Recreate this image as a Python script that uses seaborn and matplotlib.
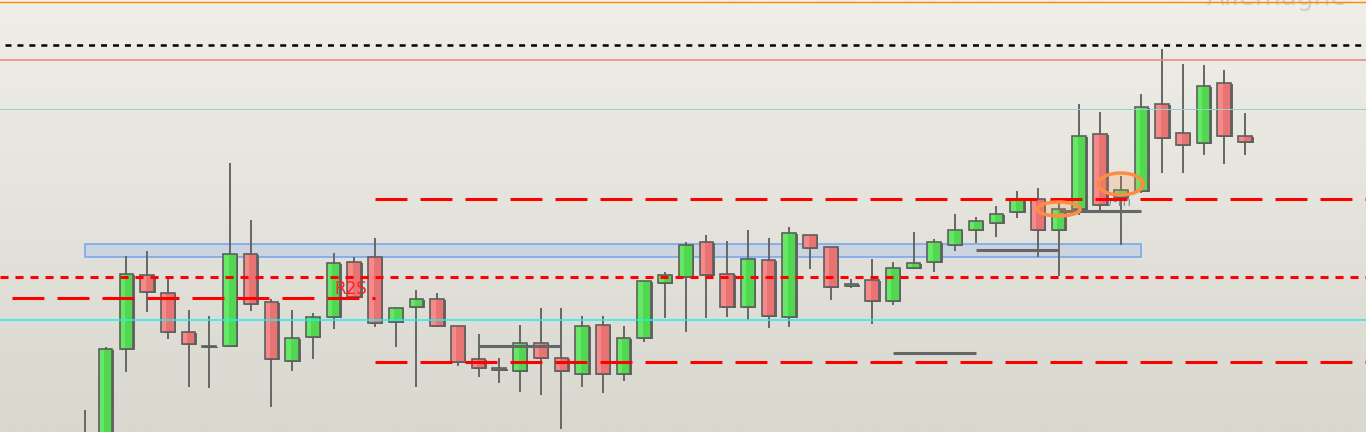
import numpy as np
import matplotlib.pyplot as plt
from matplotlib.colors import LinearSegmentedColormap
from matplotlib.patches import Ellipse, Rectangle
import seaborn as sns

# daily candles (price units)
opens = [30, 60, 151, 225, 207, 168, 154, 154, 246, 198,
         139, 163, 183, 238, 243, 178, 193, 201, 174, 141,
         132, 129, 157, 142, 126, 175, 126, 162, 217, 223,
         258, 226, 193, 240, 183, 265, 253, 214, 220, 199,
         232, 238, 255, 270, 277, 288, 301, 270, 291, 366,
         303, 309, 396, 367, 357, 417, 364]
highs = [90, 153, 244, 249, 222, 190, 184, 337, 280, 201,
         190, 187, 247, 243, 262, 193, 210, 207, 174, 166,
         142, 175, 192, 192, 184, 184, 174, 219, 228, 258,
         265, 259, 270, 262, 273, 265, 253, 221, 241, 238,
         268, 261, 286, 283, 294, 309, 312, 297, 396, 388,
         324, 406, 451, 436, 435, 430, 387]
lows = [20, 50, 128, 188, 161, 113, 112, 154, 189, 93,
        129, 141, 171, 200, 173, 153, 113, 173, 134, 123,
        117, 108, 105, 71, 113, 107, 119, 158, 182, 168,
        182, 183, 180, 172, 173, 231, 200, 212, 176, 195,
        232, 228, 249, 257, 263, 282, 243, 224, 285, 289,
        255, 307, 327, 327, 345, 336, 345]
closes = [55, 151, 226, 208, 168, 156, 153.5, 246, 196, 141,
          162, 183, 237, 203, 177, 192, 201, 174, 138, 132,
          130, 157, 142, 129, 174, 126, 162, 219, 225, 255,
          225, 193, 241, 184, 267, 252, 213, 216, 199, 232,
          237, 258, 270, 279, 286, 300, 270, 291, 364, 295,
          310, 393, 362, 355, 414, 364, 358]

# levels drawn on the chart
top_orange = 498
black_level = 455
pink_level = 440
thin_level = 391
cyan_level = 180
red_upper = 301
red_dotted = 223
red_left = 202
red_lower = 138
zone_low, zone_high, zone_end = 243, 256, 51
gray_segments = [(154, 19, 23), (147, 39, 43), (250, 43, 47), (289, 47, 51)]
circles = [(47, 291, 2.08, 14), (50, 316, 2.17, 22)]

sns.set_theme(style='white')
plt.rcParams['lines.scale_dashes'] = False

fig = plt.figure(figsize=(13.66, 4.32), dpi=100)
ax = fig.add_axes([0, 0, 1, 1])

grad = np.linspace(0, 1, 256).reshape(-1, 1)
bg = LinearSegmentedColormap.from_list('bg', ['#efeee8', '#d8d8cf'])
ax.imshow(grad, extent=[0, 1, 0, 1], transform=ax.transAxes, cmap=bg,
          aspect='auto', zorder=0)

idx = np.arange(len(opens))
o = np.array(opens, dtype=float)
c = np.array(closes, dtype=float)
bottoms = np.minimum(o, c)
heights = np.abs(c - o)
up = c >= o
light = np.where(up, '#66e866', '#f58a8a')
dark = np.where(up, '#45cc45', '#e06464')

w = 0.66
ax.vlines(idx, lows, highs, color='#666666', lw=1.4, zorder=3)
# shadow on the right of each body
ax.bar(idx + 0.08, heights, bottom=bottoms - 1, width=w,
       color='#666666', linewidth=0, zorder=3.5)
ax.bar(idx, heights, bottom=bottoms, width=w, color=light,
       linewidth=0, zorder=4)
ax.bar(idx + w * 0.2, heights, bottom=bottoms, width=w * 0.6, color=dark,
       linewidth=0, alpha=0.6, zorder=4.1)
ax.bar(idx, heights, bottom=bottoms, width=w, facecolor='none',
       edgecolor='#5e5e5e', linewidth=1.2, zorder=4.2)

xmin, xmax = -4.1, 61.84
long_dash = (0, (23, 9.4))

ax.axhline(top_orange, color='#ff8a00', lw=1.0, zorder=5)
ax.hlines(black_level, -3.85, xmax, color='black', lw=1.8,
          linestyles=[(0, (4.3, 4.3))], zorder=5)
ax.axhline(pink_level, color='#f08c8c', lw=1.2, zorder=5)
ax.axhline(thin_level, color='#8fd3d3', lw=0.7, zorder=5)
ax.axhline(cyan_level, color='#22eeee', lw=1.1, zorder=5)

ax.hlines(red_upper, 14.0, xmax, color='#ff0000', lw=2.2,
          linestyles=[long_dash], zorder=5)
ax.hlines(red_dotted, xmin, xmax, color='#ff0000', lw=2.2,
          linestyles=[(0, (5.8, 5))], zorder=5)
ax.hlines(red_left, -3.52, 14.0, color='#ff0000', lw=2.2,
          linestyles=[long_dash], zorder=5)
ax.hlines(red_lower, 14.0, xmax, color='#ff0000', lw=2.2,
          linestyles=[long_dash], zorder=5)

ax.add_patch(Rectangle((0, zone_low), zone_end, zone_high - zone_low,
                       facecolor='#c9d4e3', edgecolor='#6a9cf0', lw=1.1,
                       alpha=0.9, zorder=2))

for y, x0, x1 in gray_segments:
    ax.hlines(y, x0, x1, color='#666666', lw=2.2, zorder=5)

for x, y, ew, eh in circles:
    ax.add_patch(Ellipse((x, y), ew, eh, facecolor=(1, 0.6, 0.3, 0.2),
                         edgecolor='#ff8c42', lw=2.5, zorder=6))

ax.text(12.85, 211, 'R2S', color='#ff2020', fontsize=12,
        ha='center', va='center', zorder=6)
ax.text(49.6, 298, 'Pw-m', color='#8090a8', fontsize=10,
        ha='center', va='center', zorder=3.9)
ax.text(60.93, 495, 'Allemagne', color='#cfcfcf', fontsize=19,
        ha='right', va='baseline', zorder=1)

ax.set_xlim(xmin, xmax)
ax.set_ylim(68, 500)
ax.axis('off')

fig.savefig('out.png', dpi=100)
